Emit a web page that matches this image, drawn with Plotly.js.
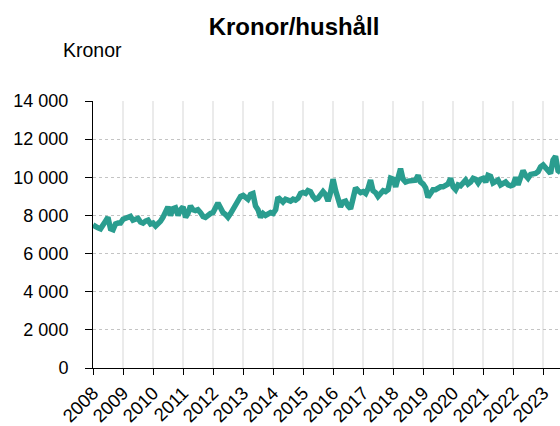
<!DOCTYPE html>
<html>
<head>
<meta charset="utf-8">
<script src="https://cdn.plot.ly/plotly-3.0.1.min.js"></script>
<style>html,body{margin:0;padding:0;background:#fff;}#chart{width:560px;height:426px;}</style>
</head>
<body>
<div id="chart"></div>
<script>
var startYear = 2008;
var values = [
  7500,7400,7350,7300,7450,7700,7900,7300,7250,7550,7600,7600,
  7800,7850,7900,7950,7750,7800,7850,7650,7600,7700,7750,7550,
  7600,7450,7550,7700,7900,8200,8450,8000,8350,8400,8000,8300,
  8450,7900,8100,8500,8300,8250,8300,8150,7950,7900,8050,8100,
  8150,8350,8650,8400,8150,8050,7900,8100,8350,8600,8850,9000,
  9050,8900,8850,9100,9150,8500,8300,7900,8100,8000,8050,8150,
  8100,8300,8950,8800,8700,8850,8800,8750,8850,8800,8900,9150,
  9200,9150,9300,9250,9000,8850,8900,9150,9250,9100,8750,9200,
  9900,9300,8800,8450,8700,8750,8500,8350,8900,9450,9300,9200,
  9250,9150,9400,9850,9300,9200,9000,9150,9300,9250,9350,9950,
  9900,9500,10100,10450,9900,9750,9800,9800,9850,9850,10100,9750,
  9650,9450,8950,9200,9350,9350,9450,9500,9500,9600,9650,9950,
  9500,9350,9600,9550,9700,9850,9650,9750,9950,9900,9700,9900,
  9950,9750,10100,10050,9700,9800,9850,9600,9650,9750,9600,9550,
  9600,10000,9600,9950,10350,10100,9950,10150,10150,10200,10300,10550,
  10650,10500,10300,10200,10900,11100,10350,10250
];
var yTickVals = [0,2000,4000,6000,8000,10000,12000,14000];
var yTickLabels = ["0","2 000","4 000","6 000","8 000","10 000","12 000","14 000"];
var xYears = [2008,2009,2010,2011,2012,2013,2014,2015,2016,2017,2018,2019,2020,2021,2022,2023];

function pad(n){return (n<10?'0':'')+n;}
var dates = values.map(function(v,i){
  var y = startYear + Math.floor(i/12);
  var m = (i%12)+1;
  return y+'-'+pad(m)+'-01';
});

var trace = {
  x: dates, y: values, type:'scatter', mode:'lines',
  line:{color:'#2a9d8f', width:5.5},
  hoverinfo:'skip'
};

var layout = {
  width:560, height:426,
  margin:{l:93, r:0, t:101, b:58},
  paper_bgcolor:'#fff', plot_bgcolor:'#fff',
  showlegend:false,
  font:{family:'Liberation Sans, Arial, sans-serif', color:'#000', size:18},
  title:{text:'<b>Kronor/hushåll</b>', font:{size:24, family:'Liberation Sans, Arial, sans-serif', color:'#000'},
         x:0.525, xanchor:'center', xref:'container', y:0.937, yanchor:'middle', yref:'container'},
  xaxis:{
    type:'date',
    range:['2008-01-01','2023-07-25'],
    tickvals: xYears.map(function(y){return y+'-01-01';}),
    ticktext: xYears.map(String),
    tickangle:-45,
    tickfont:{size:18.5},
    ticks:'outside', ticklen:6, tickcolor:'#000', tickwidth:1,
    showline:true, linecolor:'#000', linewidth:1,
    showgrid:true, gridcolor:'#ebebeb', gridwidth:2.5,
    zeroline:false, fixedrange:true
  },
  yaxis:{
    range:[0,14000],
    tickvals:yTickVals, ticktext:yTickLabels,
    tickfont:{size:18},
    ticks:'outside', ticklen:7, tickcolor:'#000', tickwidth:1,
    ticklabelstandoff:13,
    showline:true, linecolor:'#000', linewidth:1,
    showgrid:true, gridcolor:'#c4c4c4', gridwidth:1, griddash:'dot',
    zeroline:false, fixedrange:true
  },
  annotations:[{
    text:'Kronor', xref:'paper', yref:'paper', x:-0.068, y:1.191,
    xanchor:'left', yanchor:'middle', showarrow:false,
    font:{size:19.5, color:'#000'}
  }]
};

Plotly.newPlot('chart',[trace],layout,{staticPlot:true, displayModeBar:false});
</script>
</body>
</html>
